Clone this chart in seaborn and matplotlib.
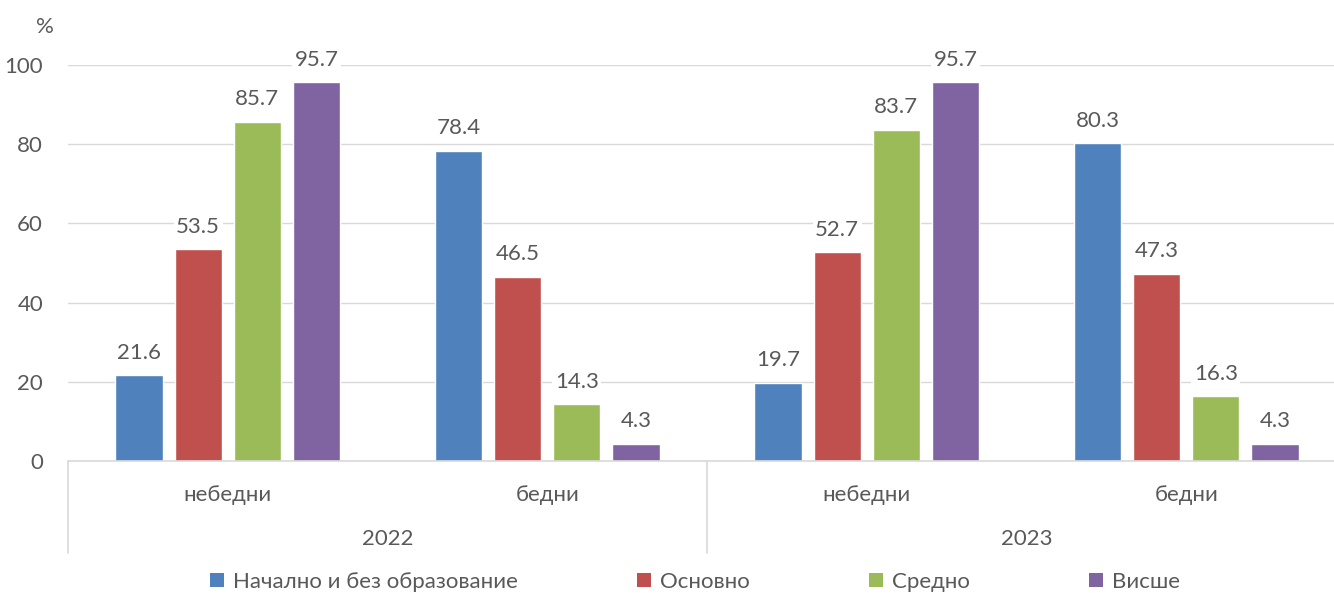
import pandas as pd
import seaborn as sns
import matplotlib.pyplot as plt
import matplotlib.transforms as mtransforms
from matplotlib.patches import Patch

# Data
groups = ['2022 небедни', '2022 бедни', '2023 небедни', '2023 бедни']
group_labels = ['небедни', 'бедни', 'небедни', 'бедни']
years = ['2022', '2023']
education = ['Начално и без образование', 'Основно', 'Средно', 'Висше']
vals_primary = [21.6, 78.4, 19.7, 80.3]
vals_basic = [53.5, 46.5, 52.7, 47.3]
vals_secondary = [85.7, 14.3, 83.7, 16.3]
vals_higher = [95.7, 4.3, 95.7, 4.3]
colors = ['#4F81BD', '#C0504D', '#9BBB59', '#8064A2']

rows = []
for edu, vals in zip(education, [vals_primary, vals_basic, vals_secondary, vals_higher]):
    for g, v in zip(groups, vals):
        rows.append({'group': g, 'edu': edu, 'value': v})
df = pd.DataFrame(rows)

sns.set_theme(style="white")
plt.rcParams['font.family'] = ['Lato', 'DejaVu Sans']
text_color = '#595959'
fs = 16

fig = plt.figure(figsize=(13.34, 5.93), dpi=100)
# axes runs a little past the right edge, like the original
ax = fig.add_axes([0.051, 0.2226, 0.958, 0.6678])

sns.barplot(data=df, x='group', y='value', hue='edu', order=groups, hue_order=education,
            palette=colors, saturation=1, width=0.74, gap=0.2, legend=False, ax=ax)

ax.set_ylim(0, 100)
ax.set_xlim(-0.5, 3.5)
ax.set_yticks(range(0, 101, 20))
ax.yaxis.grid(True, color='#D9D9D9', linewidth=1)
ax.set_axisbelow(True)
for s in ['top', 'right', 'left']:
    ax.spines[s].set_visible(False)
ax.spines['bottom'].set_color('#D9D9D9')
ax.spines['bottom'].set_linewidth(1.2)
ax.tick_params(axis='y', length=0, pad=18, labelsize=fs, labelcolor=text_color)
ax.tick_params(axis='x', length=0, pad=17, labelsize=fs, labelcolor=text_color)
ax.set_xticks(range(len(groups)))
ax.set_xticklabels(group_labels)
ax.set_xlabel('')
ax.set_ylabel('')

# value labels
for cont in ax.containers:
    anns = ax.bar_label(cont, fmt='%.1f', padding=9, fontsize=fs, color=text_color)
    for a in anns:
        a.set_bbox(dict(facecolor='white', edgecolor='none', pad=2))

# year labels and separators below axis
trans = mtransforms.blended_transform_factory(ax.transData, ax.transAxes)
for i, yr in enumerate(years):
    ax.text(0.5 + 2 * i, -0.198, yr, transform=trans, ha='center', va='center',
            fontsize=fs, color=text_color)
for x in [-0.5, 1.5, 3.5]:
    ax.plot([x, x], [0, -0.232], transform=trans, color='#D9D9D9', linewidth=1.2,
            clip_on=False)

fig.text(0.034, 0.955, '%', fontsize=fs, color=text_color, ha='center', va='center')

handles = [Patch(facecolor=c, edgecolor='none') for c in colors]
fig.legend(handles, education, loc='center', bbox_to_anchor=(0.521, 0.0185), ncol=4,
           frameon=False, fontsize=fs, labelcolor=text_color, handlelength=0.6,
           handleheight=0.6, handletextpad=0.4, columnspacing=5.4)

fig.savefig('out.png', dpi=100)
